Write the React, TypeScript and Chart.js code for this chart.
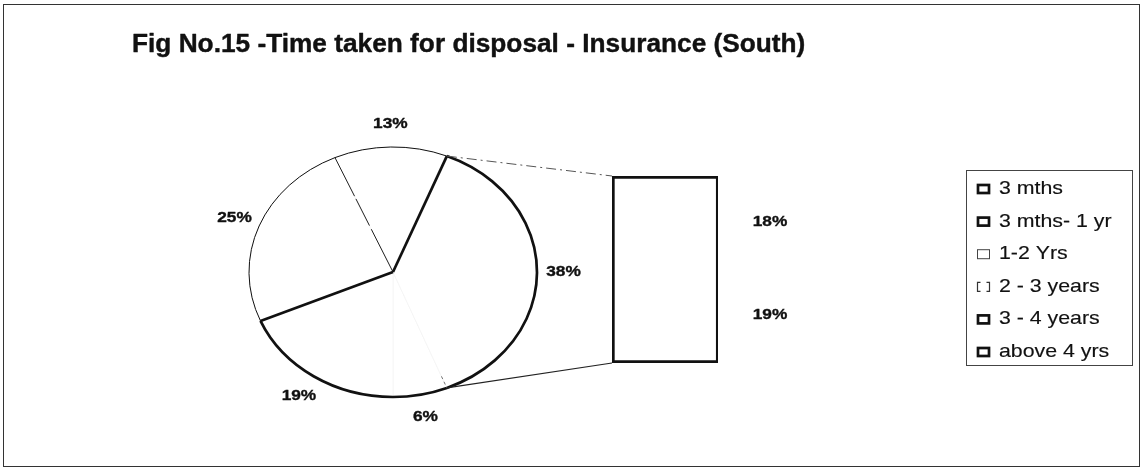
import React, { useEffect, useRef } from "react";
import { Chart, registerables } from "chart.js";

Chart.register(...registerables);

// Time taken for disposal of insurance cases (South), share of cases in %
const categories = ["3 mths", "3 mths- 1 yr", "1-2 Yrs", "2 - 3 years", "3 - 4 years", "above 4 yrs"];
const shares = [6.1, 18.6, 24.8, 12.7, 18.4, 19.4];
// the last categories are split out of the pie into the stacked bar
const splitCount = 2;
const otherLabel = "Other";
const titleText = "Fig No.15 -Time taken for disposal - Insurance (South)";

const W = 1147;
const H = 471;
const STRETCH = 1.152; // horizontal stretch of the page (pie is drawn as an ellipse)
const FONT = "'Liberation Sans', Arial, Helvetica, sans-serif";
const INK = "#111";

// outline treatment of the pie slices (rim width per slice, spoke at each slice start)
const rimWidths = [2.7, 2.7, 1, 1, 2.7];
const spokeStyles: ({ width: number; color: string; dash: number[]; from: number } | null)[] = [
  { width: 0.9, color: "#666", dash: [3, 3], from: 0.9 },
  null,
  { width: 2.7, color: INK, dash: [], from: 0 },
  { width: 1, color: "#222", dash: [48, 4, 30, 3], from: 0 },
  { width: 2.7, color: INK, dash: [], from: 0 },
];
// legend swatch outlines
const swatchStyles = ["thick", "thick", "thin", "bracket", "thick", "thick"];

const total = shares.reduce((a, b) => a + b, 0);
const pieCount = categories.length - splitCount;
const otherShare = shares.slice(pieCount).reduce((a, b) => a + b, 0);
const pieLabels = [...categories.slice(0, pieCount), otherLabel];
const pieValues = [...shares.slice(0, pieCount), otherShare];
const pct = (v: number) => `${Math.round((v / total) * 100)}%`;

function stretchedText(
  ctx: CanvasRenderingContext2D,
  text: string,
  x: number,
  y: number,
  font: string,
  align: CanvasTextAlign,
  stretch = STRETCH,
  thicken = 0
) {
  ctx.save();
  ctx.translate(x, y);
  ctx.scale(stretch, 1);
  ctx.font = font;
  ctx.textAlign = align;
  ctx.textBaseline = "middle";
  ctx.fillStyle = INK;
  ctx.fillText(text, 0, 0);
  if (thicken > 0) {
    ctx.lineWidth = thicken;
    ctx.strokeStyle = INK;
    ctx.lineJoin = "round";
    ctx.strokeText(text, 0, 0);
  }
  ctx.restore();
}

function arcGeom(arc: any) {
  const p = arc.getProps(["x", "y", "startAngle", "endAngle", "outerRadius"], true);
  return { ...p, rx: p.outerRadius * STRETCH, ry: p.outerRadius };
}

export default function App() {
  const pieRef = useRef<HTMLCanvasElement>(null);
  const barRef = useRef<HTMLCanvasElement>(null);

  useEffect(() => {
    if (!pieRef.current || !barRef.current) return;

    const pageBackground = {
      id: "pageBackground",
      beforeDraw(chart: any) {
        const { ctx } = chart;
        ctx.save();
        ctx.fillStyle = "#fff";
        ctx.fillRect(0, 0, W, H);
        ctx.strokeStyle = "#333";
        ctx.lineWidth = 1;
        ctx.strokeRect(3.5, 4.5, 1136, 462);
        ctx.restore();
        stretchedText(ctx, titleText, 132, 45, `bold 25px ${FONT}`, "left", 1.05, 0.4);
      },
    };

    const ellipseTransform = {
      id: "ellipseTransform",
      beforeDatasetsDraw(chart: any) {
        const a = chart.getDatasetMeta(0).data[0];
        const { ctx } = chart;
        ctx.save();
        ctx.translate(a.x, a.y);
        ctx.scale(STRETCH, 1);
        ctx.translate(-a.x, -a.y);
      },
      afterDatasetsDraw(chart: any) {
        chart.ctx.restore();
      },
    };

    const pieOutline = {
      id: "pieOutline",
      afterDraw(chart: any) {
        const { ctx } = chart;
        const arcs = chart.getDatasetMeta(0).data;
        ctx.save();
        ctx.lineCap = "butt";
        ctx.lineJoin = "round";
        arcs.forEach((arc: any, i: number) => {
          const g = arcGeom(arc);
          ctx.beginPath();
          ctx.ellipse(g.x, g.y, g.rx, g.ry, 0, g.startAngle, g.endAngle);
          ctx.lineWidth = rimWidths[i];
          ctx.strokeStyle = INK;
          ctx.setLineDash([]);
          ctx.stroke();
          const s = spokeStyles[i];
          if (s) {
            const c = Math.cos(g.startAngle);
            const sn = Math.sin(g.startAngle);
            ctx.beginPath();
            ctx.moveTo(g.x + c * g.rx * s.from, g.y + sn * g.ry * s.from);
            ctx.lineTo(g.x + c * g.rx, g.y + sn * g.ry);
            ctx.lineWidth = s.width;
            ctx.strokeStyle = s.color;
            ctx.setLineDash(s.dash);
            ctx.stroke();
          }
        });
        ctx.restore();
      },
    };

    const pieLabelsPlugin = {
      id: "pieLabels",
      afterDraw(chart: any) {
        const { ctx } = chart;
        const arcs = chart.getDatasetMeta(0).data;
        arcs.forEach((arc: any, i: number) => {
          const g = arcGeom(arc);
          const mid = (g.startAngle + g.endAngle) / 2;
          const d = g.outerRadius + 23;
          const x = g.x + Math.cos(mid) * d * STRETCH;
          const y = g.y + Math.sin(mid) * d;
          stretchedText(ctx, pct(pieValues[i]), x, y, `bold 15px ${FONT}`, "center", STRETCH, 0.35);
        });
      },
    };

    const pieChart = new Chart(pieRef.current, {
      type: "pie",
      data: {
        labels: pieLabels,
        datasets: [
          {
            data: pieValues,
            backgroundColor: "#fff",
            borderColor: "#f0f0f0",
            borderWidth: 0.5,
          },
        ],
      },
      options: {
        animation: false,
        responsive: false,
        maintainAspectRatio: false,
        events: [],
        rotation: 90 + (otherShare / total) * 180,
        radius: 125,
        layout: { padding: { left: 0, right: 361, top: 73, bottom: 0 } },
        plugins: {
          legend: { display: false },
          title: { display: false },
          tooltip: { enabled: false },
        },
      },
      plugins: [pageBackground, ellipseTransform, pieOutline, pieLabelsPlugin],
    });

    const connectors = {
      id: "connectors",
      beforeDatasetsDraw(chart: any) {
        const { ctx } = chart;
        const other = arcGeom(pieChart.getDatasetMeta(0).data[pieCount]);
        const top = chart.getDatasetMeta(1).data[0];
        const bottom = chart.getDatasetMeta(0).data[0];
        const tp = top.getProps(["x", "y", "width"], true);
        const bp = bottom.getProps(["x", "base", "width"], true);
        ctx.save();
        ctx.beginPath();
        ctx.moveTo(other.x + Math.cos(other.startAngle) * other.rx, other.y + Math.sin(other.startAngle) * other.ry);
        ctx.lineTo(tp.x - tp.width / 2, tp.y);
        ctx.lineWidth = 1;
        ctx.strokeStyle = "#555";
        ctx.setLineDash([10, 4, 2, 4]);
        ctx.stroke();
        ctx.beginPath();
        ctx.moveTo(other.x + Math.cos(other.endAngle) * other.rx, other.y + Math.sin(other.endAngle) * other.ry);
        ctx.lineTo(bp.x - bp.width / 2, bp.base);
        ctx.lineWidth = 1.2;
        ctx.strokeStyle = "#222";
        ctx.setLineDash([]);
        ctx.stroke();
        ctx.restore();
      },
    };

    const barLabels = {
      id: "barLabels",
      afterDraw(chart: any) {
        const { ctx } = chart;
        chart.data.datasets.forEach((ds: any, di: number) => {
          const el = chart.getDatasetMeta(di).data[0];
          const p = el.getProps(["x", "y", "base", "width"], true);
          stretchedText(ctx, pct(ds.data[0]), p.x + p.width / 2 + 52, (p.y + p.base) / 2, `bold 15px ${FONT}`, "center", STRETCH, 0.35);
        });
      },
    };

    const legendBox = {
      id: "legendBox",
      afterDraw(chart: any) {
        const { ctx } = chart;
        ctx.save();
        ctx.strokeStyle = "#444";
        ctx.lineWidth = 1;
        ctx.setLineDash([]);
        ctx.strokeRect(966.5, 170.5, 166, 195);
        categories.forEach((name, i) => {
          const y = 189 + i * 32.6;
          const st = swatchStyles[i];
          ctx.save();
          if (st === "thick") {
            ctx.lineWidth = 2.7;
            ctx.strokeStyle = INK;
            ctx.strokeRect(978, y - 4, 11, 8);
          } else if (st === "thin") {
            ctx.lineWidth = 1;
            ctx.strokeStyle = "#444";
            ctx.strokeRect(977.5, y - 4.5, 12, 9);
          } else {
            // broken outline: only the two side brackets remain
            ctx.lineWidth = 1.2;
            ctx.strokeStyle = "#333";
            ctx.beginPath();
            ctx.moveTo(980.5, y - 4.5);
            ctx.lineTo(977.5, y - 4.5);
            ctx.lineTo(977.5, y + 4.5);
            ctx.lineTo(980.5, y + 4.5);
            ctx.moveTo(986.5, y - 4.5);
            ctx.lineTo(989.5, y - 4.5);
            ctx.lineTo(989.5, y + 4.5);
            ctx.lineTo(986.5, y + 4.5);
            ctx.stroke();
          }
          ctx.restore();
          stretchedText(ctx, name, 999, y, `18.5px ${FONT}`, "left", STRETCH, 0.15);
        });
        ctx.restore();
      },
    };

    const top = categories.length - 1;
    const barChart = new Chart(barRef.current, {
      type: "bar",
      data: {
        labels: [otherLabel],
        datasets: [
          {
            label: categories[top],
            data: [shares[top]],
            backgroundColor: "#fff",
            borderColor: INK,
            borderWidth: { left: 3, right: 2.4, bottom: 3, top: 0 },
            borderSkipped: false,
            barPercentage: 1,
            categoryPercentage: 1,
          },
          {
            label: categories[top - 1],
            data: [shares[top - 1]],
            backgroundColor: "#fff",
            borderColor: INK,
            borderWidth: { left: 3, right: 2.4, top: 3, bottom: 0 },
            borderSkipped: false,
            barPercentage: 1,
            categoryPercentage: 1,
          },
        ],
      },
      options: {
        animation: false,
        responsive: false,
        maintainAspectRatio: false,
        events: [],
        layout: { padding: { left: 612, right: 429, top: 176, bottom: 108 } },
        scales: {
          x: { display: false, stacked: true },
          y: { display: false, stacked: true, min: 0, max: otherShare },
        },
        plugins: {
          legend: { display: false },
          title: { display: false },
          tooltip: { enabled: false },
        },
      },
      plugins: [connectors, barLabels, legendBox],
    });

    return () => {
      barChart.destroy();
      pieChart.destroy();
    };
  }, []);

  const canvasStyle: React.CSSProperties = { position: "absolute", left: 0, top: 0, display: "block" };
  return (
    <div style={{ position: "absolute", left: 0, top: 0, width: W, height: H, background: "#fff" }}>
      <canvas ref={pieRef} width={W} height={H} style={canvasStyle} />
      <canvas ref={barRef} width={W} height={H} style={canvasStyle} />
    </div>
  );
}
